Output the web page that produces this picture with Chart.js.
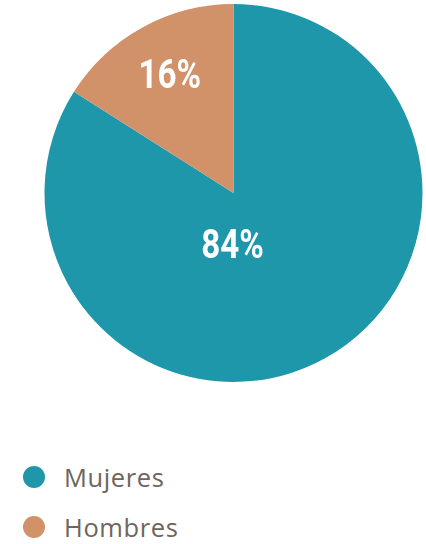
<!DOCTYPE html>
<html lang="es">
  <head>
    <meta charset="utf-8" />
    <title>Mujeres / Hombres</title>
    <style>
      * {
        margin: 0;
        padding: 0;
      }
      body {
        width: 426px;
        height: 544px;
        background: #fff;
        overflow: hidden;
      }
      .chartBox {
        position: relative;
        width: 426px;
        height: 386px;
      }
      .legend {
        list-style: none;
        position: absolute;
        left: 23px;
        top: 466px;
        font-family: "Open Sans", sans-serif;
        font-size: 25.5px;
        letter-spacing: 0.6px;
        color: #6e655d;
      }
      .legend li {
        display: flex;
        align-items: center;
        height: 22px;
        margin-bottom: 28px;
      }
      .legend span {
        display: inline-block;
        width: 22px;
        height: 22px;
        border-radius: 50%;
        margin-right: 19px;
      }
    </style>
  </head>
  <body>
    <div class="chartBox">
      <canvas id="myChart"></canvas>
    </div>
    <ul class="legend" id="legend"></ul>

    <script src="https://cdn.jsdelivr.net/npm/chart.js"></script>
    <script>
      const labels = ["Mujeres", "Hombres"];
      const values = [84, 16];
      const colors = ["#1e97ab", "#d19169"];

      // percentage labels drawn on the slices
      const sliceLabels = {
        id: "sliceLabels",
        afterDatasetsDraw(chart) {
          const { ctx } = chart;
          const meta = chart.getDatasetMeta(0);
          meta.data.forEach((arc, i) => {
            const r = arc.outerRadius;
            let x, y;
            if (i === 0) {
              // big slice: label just below the centre
              x = arc.x - 1;
              y = arc.y + r * 0.285;
            } else {
              const mid = (arc.startAngle + arc.endAngle) / 2;
              x = arc.x + Math.cos(mid) * r * 0.7;
              y = arc.y + Math.sin(mid) * r * 0.7;
            }
            ctx.save();
            ctx.translate(x, y);
            // squeeze it to look like a condensed face
            ctx.scale(0.83, 1);
            ctx.font = "bold 40px Roboto";
            ctx.fillStyle = "#fff";
            ctx.textAlign = "center";
            ctx.textBaseline = "middle";
            ctx.fillText(values[i] + "%", 0, 1);
            ctx.restore();
          });
        },
      };

      const config = {
        type: "pie",
        data: {
          labels,
          datasets: [
            {
              data: values,
              backgroundColor: colors,
              borderWidth: 0,
            },
          ],
        },
        options: {
          responsive: true,
          maintainAspectRatio: false,
          animation: false,
          layout: {
            padding: { left: 41, right: 0, top: 4, bottom: 4 },
          },
          plugins: {
            legend: { display: false },
            tooltip: { enabled: false },
          },
        },
        plugins: [sliceLabels],
      };

      const myChart = new Chart(document.getElementById("myChart"), config);

      // html legend
      const legend = document.getElementById("legend");
      labels.forEach((label, i) => {
        const li = document.createElement("li");
        const dot = document.createElement("span");
        dot.style.background = colors[i];
        li.appendChild(dot);
        li.appendChild(document.createTextNode(label));
        legend.appendChild(li);
      });
    </script>
  </body>
</html>
